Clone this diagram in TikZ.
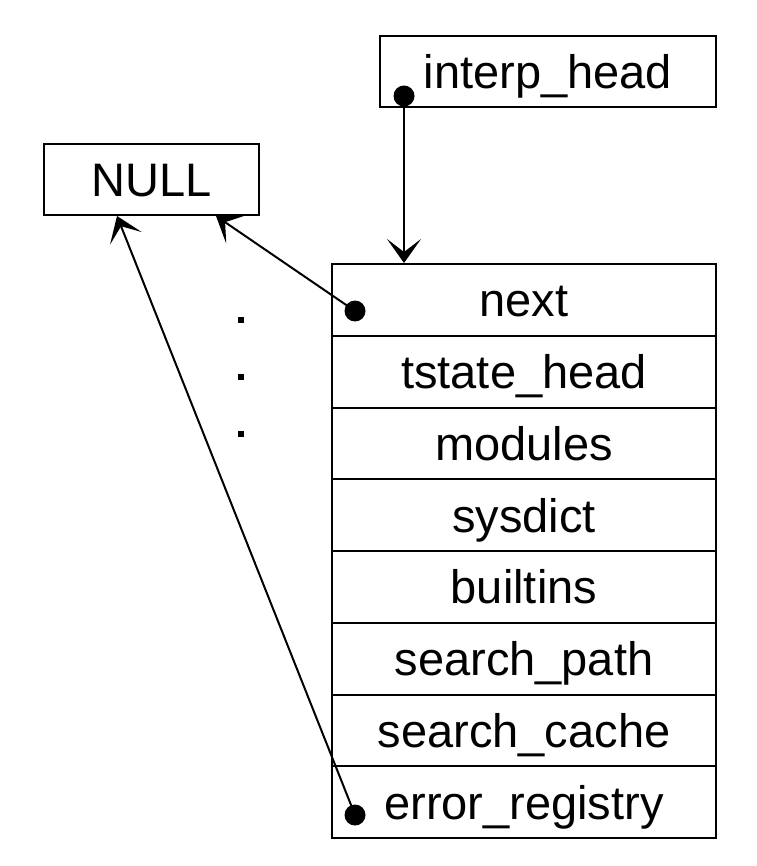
\documentclass[tikz,border=0pt]{standalone}
\usepackage{fontspec}
\setmainfont{Liberation Sans}
\usetikzlibrary{arrows.meta, positioning, calc}

\begin{document}
\begin{tikzpicture}[x=1pt, y=-1pt, line width=2pt,
    font=\fontsize{47}{54}\selectfont,
    box/.style={draw, inner sep=0pt, minimum height=71.75pt,
      text height=36pt, text depth=2pt},
    field/.style={box, minimum width=384pt},
    ptrdot/.style={circle, fill, inner sep=0pt, minimum size=21pt},
    ptr/.style={-{Stealth[length=24pt, width=34pt, inset=13pt]}, line width=2pt}]
  \useasboundingbox (0,0) rectangle (756,866);

  % heads
  \node[box, minimum width=336pt] (interp) at (548,71.5) {interp\_head};
  \node[box, minimum width=215pt] (null) at (151.5,179.5) {NULL};

  % interpreter state fields
  \foreach \name [count=\i] in {next, tstate\_head, modules, sysdict,
      builtins, search\_path, search\_cache, error\_registry}
    \node[field] (row\i) at (524,{264+71.75*(\i-0.5)}) {\name};

  % pointer tails
  \node[ptrdot] (interpdot) at (404,96) {};
  \node[ptrdot] (nextdot) at (355,311) {};
  \node[ptrdot] (errdot) at (355,815) {};
  \coordinate (nullA) at (216,216);
  \coordinate (nullB) at (117,216);

  % pointers
  \draw[ptr] (interpdot.center) -- (interpdot |- row1.north);
  \draw[ptr] (nextdot.center) -- (nullA);
  \draw[ptr] (errdot.center) -- (nullB);

  % more interpreters
  \foreach \y in {320,377,434}
    \fill (241,\y) +(-3,-3) rectangle +(3,3);
\end{tikzpicture}
\end{document}
